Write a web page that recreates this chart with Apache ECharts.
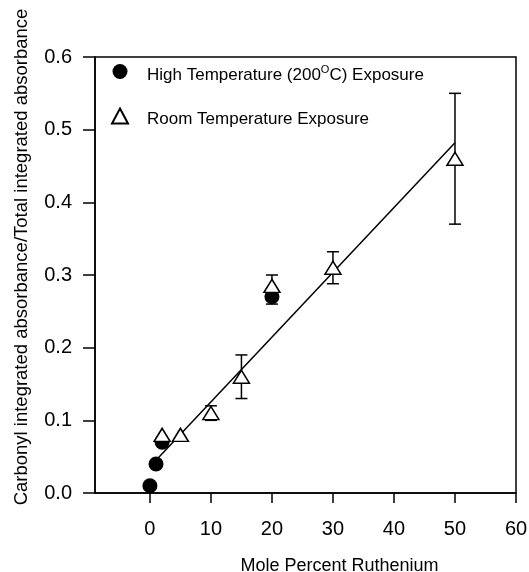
<!DOCTYPE html>
<html>
<head>
<meta charset="utf-8">
<script src="https://cdn.jsdelivr.net/npm/echarts@6/dist/echarts.min.js"></script>
<style>
  html, body { margin: 0; padding: 0; background: #fff; }
  #chart { width: 529px; height: 572px; }
</style>
</head>
<body>
<div id="chart"></div>
<script>
// Carbonyl absorbance ratio vs mole percent ruthenium
const xTicks = [0, 10, 20, 30, 40, 50, 60];

const highX = [0, 1, 2, 20];
const highY = [0.01, 0.04, 0.07, 0.27];
const highErr = [0, 0, 0, 0.01];

const roomX = [2, 5, 10, 15, 20, 30, 50];
const roomY = [0.08, 0.08, 0.11, 0.16, 0.285, 0.31, 0.46];
const roomErr = [0, 0, 0.01, 0.03, 0.015, 0.022, 0.09];

const fitX = [1, 50];
const fitY = [0.045, 0.482];

const font = 'Liberation Sans, Arial, sans-serif';

function pairs(xs, ys) {
  return xs.map((x, i) => [x, ys[i]]);
}

function errData(xs, ys, errs) {
  return xs.map((x, i) => [x, ys[i] - errs[i], ys[i] + errs[i]]).filter((d, i) => errs[i] > 0);
}

function renderErr(params, api) {
  const lo = api.coord([api.value(0), api.value(1)]);
  const hi = api.coord([api.value(0), api.value(2)]);
  const cap = 6;
  const style = { stroke: '#000', lineWidth: 1.5 };
  return {
    type: 'group',
    children: [
      { type: 'line', shape: { x1: lo[0], y1: lo[1], x2: hi[0], y2: hi[1] }, style },
      { type: 'line', shape: { x1: lo[0] - cap, y1: lo[1], x2: lo[0] + cap, y2: lo[1] }, style },
      { type: 'line', shape: { x1: hi[0] - cap, y1: hi[1], x2: hi[0] + cap, y2: hi[1] }, style }
    ]
  };
}

const chart = echarts.init(document.getElementById('chart'), null, { renderer: 'canvas' });

chart.setOption({
  animation: false,
  backgroundColor: '#fff',
  textStyle: { fontFamily: font, color: '#000' },
  grid: {
    left: 95, right: 13, top: 57, bottom: 79,
    outerBoundsMode: 'none',
    containLabel: false,
    show: true, borderColor: '#000', borderWidth: 1.5, backgroundColor: 'transparent'
  },
  legend: {
    orient: 'vertical',
    left: 106,
    top: 59,
    itemGap: 24,
    itemWidth: 16,
    itemHeight: 15,
    textStyle: {
      fontFamily: font, fontSize: 17, color: '#000', padding: [7, 0, 0, 14],
      rich: {
        sup: { fontSize: 11, fontFamily: font, color: '#000', padding: [0, 0, 10, 0] }
      }
    },
    formatter: function (name) {
      if (name.indexOf('200') >= 0) return 'High Temperature (200{sup|O}C) Exposure';
      return name;
    },
    data: [
      { name: 'High Temperature (200°C) Exposure', icon: 'circle' },
      { name: 'Room Temperature Exposure', icon: 'triangle' }
    ]
  },
  xAxis: {
    type: 'value',
    min: -9,
    max: 60,
    name: 'Mole Percent Ruthenium',
    nameLocation: 'middle',
    nameGap: 64,
    nameTextStyle: { fontFamily: font, fontSize: 18, color: '#000', padding: [0, 0, 0, 68] },
    splitLine: { show: false },
    axisLine: { show: true, onZero: false, lineStyle: { color: '#000', width: 1.5 } },
    axisTick: { show: true, inside: false, length: 10, customValues: xTicks, lineStyle: { color: '#000', width: 1.5 } },
    axisLabel: { customValues: xTicks, margin: 26, fontFamily: font, fontSize: 20, color: '#000' }
  },
  yAxis: {
    type: 'value',
    min: 0,
    max: 0.6,
    interval: 0.1,
    name: 'Carbonyl integrated absorbance/Total integrated absorbance',
    nameLocation: 'middle',
    nameGap: 64,
    nameRotate: 90,
    nameTextStyle: { fontFamily: font, fontSize: 18.5, color: '#000', padding: [0, 0, 0, 36] },
    splitLine: { show: false },
    axisLine: { show: true, onZero: false, lineStyle: { color: '#000', width: 1.5 } },
    axisTick: { show: true, inside: false, length: 12, lineStyle: { color: '#000', width: 1.5 } },
    axisLabel: {
      margin: 23, fontFamily: font, fontSize: 20, color: '#000',
      formatter: v => v.toFixed(1)
    }
  },
  series: [
    {
      type: 'line',
      data: pairs(fitX, fitY),
      showSymbol: false,
      symbol: 'none',
      lineStyle: { color: '#000', width: 1.5 },
      z: 1
    },
    {
      type: 'custom',
      renderItem: renderErr,
      data: errData(roomX, roomY, roomErr).concat(errData(highX, highY, highErr)),
      encode: { x: 0, y: [1, 2] },
      z: 2
    },
    {
      name: 'High Temperature (200°C) Exposure',
      type: 'scatter',
      symbol: 'circle',
      symbolSize: 15,
      data: pairs(highX, highY),
      itemStyle: { color: '#000', opacity: 1 },
      z: 3
    },
    {
      name: 'Room Temperature Exposure',
      type: 'scatter',
      symbol: 'triangle',
      symbolSize: [16, 13],
      data: pairs(roomX, roomY),
      itemStyle: { color: '#fff', borderColor: '#000', borderWidth: 1.5, opacity: 1 },
      z: 4
    }
  ]
});
</script>
</body>
</html>
